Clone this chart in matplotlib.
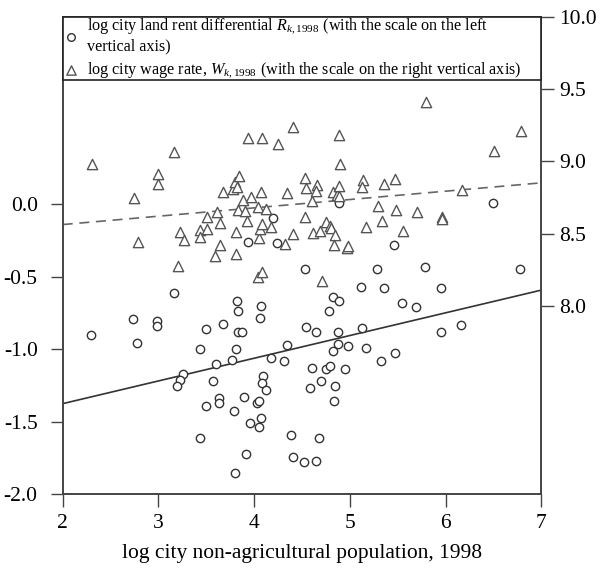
import numpy as np
import matplotlib
matplotlib.use('Agg')
import matplotlib.pyplot as plt

plt.rcParams['font.family'] = ['Liberation Serif', 'DejaVu Serif']
plt.rcParams['mathtext.fontset'] = 'custom'
plt.rcParams['mathtext.rm'] = 'Liberation Serif'
plt.rcParams['mathtext.it'] = 'Liberation Serif:italic'

# log city land rent differential (left axis)
rent_pop = [2.30, 2.73, 2.78, 2.98, 2.98, 3.16, 3.26, 3.22, 3.19, 3.43,
            3.43, 3.50, 3.50, 3.57, 3.60, 3.63, 3.63, 3.67, 3.77, 3.79,
            3.80, 3.81, 3.82, 3.83, 3.83, 3.87, 3.89, 3.91, 3.93, 3.96,
            4.03, 4.05, 4.05, 4.06, 4.07, 4.07, 4.09, 4.08, 4.12, 4.17,
            4.20, 4.24, 4.31, 4.34, 4.38, 4.40, 4.52, 4.53, 4.54, 4.58,
            4.60, 4.64, 4.65, 4.68, 4.70, 4.75, 4.79, 4.78, 4.82, 4.83,
            4.84, 4.82, 4.88, 4.88, 4.89, 4.89, 4.95, 4.98, 5.12, 5.13,
            5.17, 5.28, 5.32, 5.36, 5.46, 5.47, 5.54, 5.69, 5.78, 5.95,
            5.95, 6.16, 6.49, 6.78]
rent = [-0.905, -0.795, -0.957, -0.807, -0.839, -0.616, -1.172, -1.214, -1.257, -1.002,
        -1.616, -0.862, -1.393, -1.217, -1.103, -1.340, -1.368, -0.828, -1.076, -1.426,
        -1.857, -1.002, -0.669, -0.736, -0.885, -0.881, -1.329, -1.726, -0.262, -1.508,
        -1.374, -1.359, -1.536, -0.788, -0.703, -1.474, -1.186, -1.232, -1.283, -1.064,
        -0.093, -0.267, -1.083, -0.972, -1.595, -1.746, -1.777, -0.450, -0.848, -1.266,
        -1.129, -1.770, -0.881, -1.612, -1.219, -1.138, -1.115, -0.736, -0.643, -1.359,
        -1.255, -1.010, -0.966, -0.885, 0.005, -0.669, -1.140, -0.979, -0.570, -0.855,
        -0.991, -0.450, -1.081, -0.581, -0.281, -1.026, -0.685, -0.708, -0.437, -0.581,
        -0.881, -0.837, 0.009, -0.450]

# log city wage rate (right axis)
wage_pop = [2.31, 2.74, 2.79, 2.99, 2.99, 3.16, 3.20, 3.22, 3.27, 3.43,
            3.43, 3.51, 3.51, 3.59, 3.61, 3.64, 3.64, 3.67, 3.78, 3.80,
            3.82, 3.84, 3.81, 3.81, 3.83, 3.88, 3.90, 3.92, 3.94, 3.97,
            4.04, 4.05, 4.04, 4.06, 4.07, 4.08, 4.08, 4.08, 4.12, 4.18,
            4.25, 4.32, 4.34, 4.40, 4.41, 4.53, 4.54, 4.53, 4.60, 4.61,
            4.66, 4.65, 4.69, 4.71, 4.75, 4.79, 4.80, 4.82, 4.84, 4.83,
            4.86, 4.89, 4.89, 4.89, 4.90, 4.97, 4.98, 5.14, 5.13, 5.17,
            5.29, 5.33, 5.36, 5.47, 5.48, 5.55, 5.70, 5.79, 5.96, 5.96,
            6.17, 6.50, 6.79]
wage = [8.985, 8.750, 8.441, 8.911, 8.846, 9.065, 8.281, 8.512, 8.459, 8.524,
        8.477, 8.530, 8.618, 8.344, 8.650, 8.575, 8.420, 8.788, 8.812, 8.858,
        8.824, 8.902, 8.510, 8.358, 8.662, 8.736, 8.658, 8.591, 9.162, 8.754,
        8.685, 8.472, 8.201, 8.534, 8.788, 8.570, 8.235, 9.162, 8.669, 8.546,
        9.123, 8.430, 8.784, 9.236, 8.497, 8.888, 8.814, 8.615, 8.729, 8.503,
        8.838, 8.798, 8.521, 8.176, 8.581, 8.556, 8.539, 8.788, 8.489, 8.422,
        8.769, 8.833, 8.762, 9.180, 8.982, 8.399, 8.413, 8.874, 8.821, 8.546,
        8.692, 8.586, 8.844, 8.881, 8.667, 8.517, 8.650, 9.407, 8.615, 8.605,
        8.805, 9.072, 9.208]

# fitted lines (intercept, slope)
rent_fit = [-1.689, 0.1566]
wage_fit = [8.449, 0.0576]

fig = plt.figure(figsize=(6.03, 5.70), dpi=100)
ax = fig.add_axes([0.104, 0.133, 0.794, 0.838])
ax2 = ax.twinx()

xs = np.array([2, 7])
ax.scatter(rent_pop, rent, s=36, marker='o', facecolors='white',
           edgecolors='#333333', linewidths=1.0, zorder=3)
ax.plot(xs, rent_fit[0] + rent_fit[1] * xs, color='#333333', lw=1.2, zorder=2)

ax2.scatter(wage_pop, wage, s=55, marker='^', facecolors='white',
            edgecolors='#555555', linewidths=1.0, zorder=3)
ax2.plot(xs, wage_fit[0] + wage_fit[1] * xs, color='#666666', lw=1.2,
         dashes=(6, 4), zorder=2)

ax.set_xlim(2, 7)
ax.set_ylim(-2.0, 1.293)
ax2.set_ylim(6.703, 10.0)

ax.set_xticks([2, 3, 4, 5, 6, 7])
ax.set_yticks([-2.0, -1.5, -1.0, -0.5, 0.0])
ax.set_yticklabels(['-2.0', '-1.5', '-1.0', '-0.5', '0.0'])
ax2.set_yticks([8.0, 8.5, 9.0, 9.5, 10.0])
ax2.set_yticklabels(['8.0', '8.5', '9.0', '9.5', '10.0'])

for a in (ax, ax2):
    a.tick_params(direction='out', length=9, width=1, color='#444444',
                  labelsize=15.5, pad=4)
    for s in a.spines.values():
        s.set_color('#444444')
        s.set_linewidth(1.2)
ax.tick_params(axis='x', pad=5)
ax.tick_params(axis='y', pad=9)

ax.set_xlabel('log city non-agricultural population, 1998', fontsize=15.5, labelpad=8)

h1 = ax.scatter([], [], s=30, marker='o', facecolors='white', edgecolors='#333333')
h2 = ax.scatter([], [], s=45, marker='^', facecolors='white', edgecolors='#555555')
leg = ax2.legend([h1, h2],
                 [r'log city land rent differential $\mathit{R_{k,1998}}$ (with the scale on the left' + '\nvertical axis)',
                  r'log city wage rate, $\mathit{W_{k,1998}}$ (with the scale on the right vertical axis)'],
                 loc='upper left', bbox_to_anchor=(0, 1, 1, 0), mode='expand',
                 borderaxespad=0, fancybox=False, framealpha=1, edgecolor='#222222',
                 fontsize=11.6, handletextpad=0.5, handlelength=1.0,
                 borderpad=0.0, labelspacing=0.35)
leg.get_frame().set_linewidth(1.2)

fig.savefig('out.png', dpi=100)
